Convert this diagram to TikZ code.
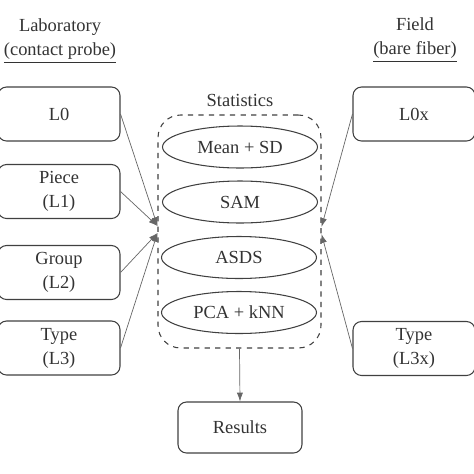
\documentclass[tikz,border=0pt]{standalone}
\usepackage{fontspec}
\setmainfont{Liberation Serif}
\usetikzlibrary{shapes.geometric,arrows.meta}
\begin{document}
\begin{tikzpicture}[x=0.02cm, y=-0.02cm,
    font=\fontsize{10.5}{13.6}\selectfont, text=black!80,
    level/.style={draw=black!75, line width=0.6pt, rounded corners=0.17cm, minimum width=2.44cm, minimum height=1.08cm, align=center},
    method/.style={draw=black!75, line width=0.6pt, ellipse, minimum width=3.1cm, minimum height=0.84cm, inner sep=0pt},
    feed/.style={draw=black!60, line width=0.4pt, -{Latex[length=5pt,width=3.5pt]}}]
    \useasboundingbox (0, 0) rectangle (474, 474);

    % headers
    \node[align=center] (lab) at (60, 41) {Laboratory\\\underline{(contact probe)}};
    \node[align=center] (field) at (415, 40) {Field\\\underline{(bare fiber)}};
    \node (statlbl) at (240, 100) {Statistics};

    % laboratory levels
    \node[level] (L0) at (59, 114) {L0};
    \node[level] (L1) at (59, 191.5) {Piece\\(L1)};
    \node[level] (L2) at (59, 272.5) {Group\\(L2)};
    \node[level] (L3) at (59, 348) {Type\\(L3)};

    % field levels
    \node[level] (L0x) at (414, 114) {L0x};
    \node[level] (L3x) at (414, 348.5) {Type\\(L3x)};

    % statistics
    \node[draw=black!75, line width=0.6pt, dashed, rounded corners=0.45cm, minimum width=3.26cm, minimum height=4.66cm] (stats) at (239.5, 231.5) {};
    \node[method] (msd) at (240, 147) {Mean + SD};
    \node[method] (sam) at (240, 202) {SAM};
    \node[method] (asds) at (239, 257.5) {ASDS};
    \node[method] (pca) at (239, 312.5) {PCA + kNN};

    \node[level, minimum width=2.48cm, minimum height=1.02cm] (res) at (240, 427.5) {Results};

    \coordinate (inL1) at (157.5, 226);
    \coordinate (inL2) at (157.5, 233);
    \coordinate (inR1) at (321.5, 227);
    \coordinate (inR2) at (321.5, 234);

    \draw[feed] (L0.east) -- (inL1);
    \draw[feed] (L1.east) -- (inL1);
    \draw[feed] (L2.east) -- (inL2);
    \draw[feed] (L3.east) -- (inL2);
    \draw[feed] (L0x.west) -- (inR1);
    \draw[feed] (L3x.west) -- (inR2);
    \draw[feed] (stats.south) -- (res.north);
\end{tikzpicture}
\end{document}
